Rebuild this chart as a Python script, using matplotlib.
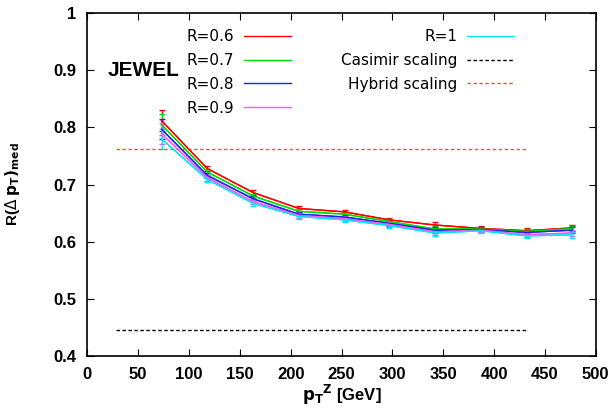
import matplotlib
matplotlib.use("Agg")
import matplotlib.pyplot as plt
import numpy as np

# pT^Z bin centres [GeV]
pt = [73, 118, 163, 208, 253, 297, 342, 387, 432, 477]

r06 = [0.812, 0.728, 0.686, 0.658, 0.652, 0.638, 0.629, 0.623, 0.619, 0.624]
r07 = [0.805, 0.722, 0.680, 0.653, 0.648, 0.635, 0.622, 0.622, 0.618, 0.623]
r08 = [0.797, 0.716, 0.675, 0.648, 0.643, 0.632, 0.620, 0.621, 0.616, 0.620]
r09 = [0.789, 0.712, 0.670, 0.646, 0.640, 0.630, 0.617, 0.620, 0.612, 0.615]
r10 = [0.780, 0.709, 0.667, 0.644, 0.638, 0.628, 0.615, 0.619, 0.610, 0.612]
err = [0.018, 0.005, 0.004, 0.004, 0.004, 0.004, 0.005, 0.004, 0.004, 0.005]

casimir = 0.445
hybrid = 0.763
ref_range = [28, 432]

series = [("R=0.6", r06, "#ff0000"),
          ("R=0.7", r07, "#00dd00"),
          ("R=0.8", r08, "#2020ff"),
          ("R=0.9", r09, "#ff55ff"),
          ("R=1", r10, "#00e8f0")]

fig = plt.figure(figsize=(6.14, 4.12), dpi=100)
ax = fig.add_axes([87.3/614, 1-355.7/412, 508.4/614, 342.4/412])

lines = []
for name, vals, col in series:
    ax.errorbar(pt, vals, yerr=err, color=col, lw=1, capsize=2.5, elinewidth=1)
    l, = ax.plot(pt, vals, color=col, lw=1, label=name)
    lines.append(l)

cas, = ax.plot(ref_range, [casimir, casimir], color="black", lw=1,
               ls=(0, (2.5, 1.8)), label="Casimir scaling")
hyb, = ax.plot(ref_range, [hybrid, hybrid], color="#ff5a14", lw=1,
               ls=(0, (2.5, 1.8)), label="Hybrid scaling")

ax.set_xlim(0, 500)
ax.set_ylim(0.4, 1.0)
ax.set_xticks(np.arange(0, 501, 50))
ax.set_yticks(np.arange(0.4, 1.01, 0.1))
ax.set_yticklabels(["0.4", "0.5", "0.6", "0.7", "0.8", "0.9", "1"])
ax.tick_params(direction="in", top=True, right=True, length=5, width=0.8,
               labelsize=12, pad=8)
for lab in ax.get_xticklabels() + ax.get_yticklabels():
    lab.set_fontweight("bold")
    lab.set_family("Liberation Sans")
for s in ax.spines.values():
    s.set_linewidth(1.2)

ax.set_xlabel(r"$\mathbf{p_T}^{\mathbf{Z}}$ [GeV]", fontsize=12, fontweight="bold",
              family="Liberation Sans", labelpad=1)
ax.set_ylabel(r"R($\Delta$ $\mathbf{p_T)_{med}}$", fontsize=11,
              fontweight="bold", family="Liberation Sans")
ax.yaxis.set_label_coords(-0.128, 0.5)

ax.text(108/614, 1-71/412, "JEWEL", transform=fig.transFigure, fontsize=15,
        fontweight="bold", family="Liberation Sans", va="center", ha="left")

leg_kw = dict(frameon=False, markerfirst=False, fontsize=11, handlelength=3.07,
              handletextpad=0.65, labelspacing=0.58, borderpad=0, borderaxespad=0,
              loc="upper right", bbox_transform=fig.transFigure)
leg1 = ax.legend(handles=lines[:4], bbox_to_anchor=(291/614, 1-29/412), **leg_kw)
ax.add_artist(leg1)
ax.legend(handles=[lines[4], cas, hyb], bbox_to_anchor=(514/614, 1-29/412), **leg_kw)

fig.savefig("out.png", dpi=100)
